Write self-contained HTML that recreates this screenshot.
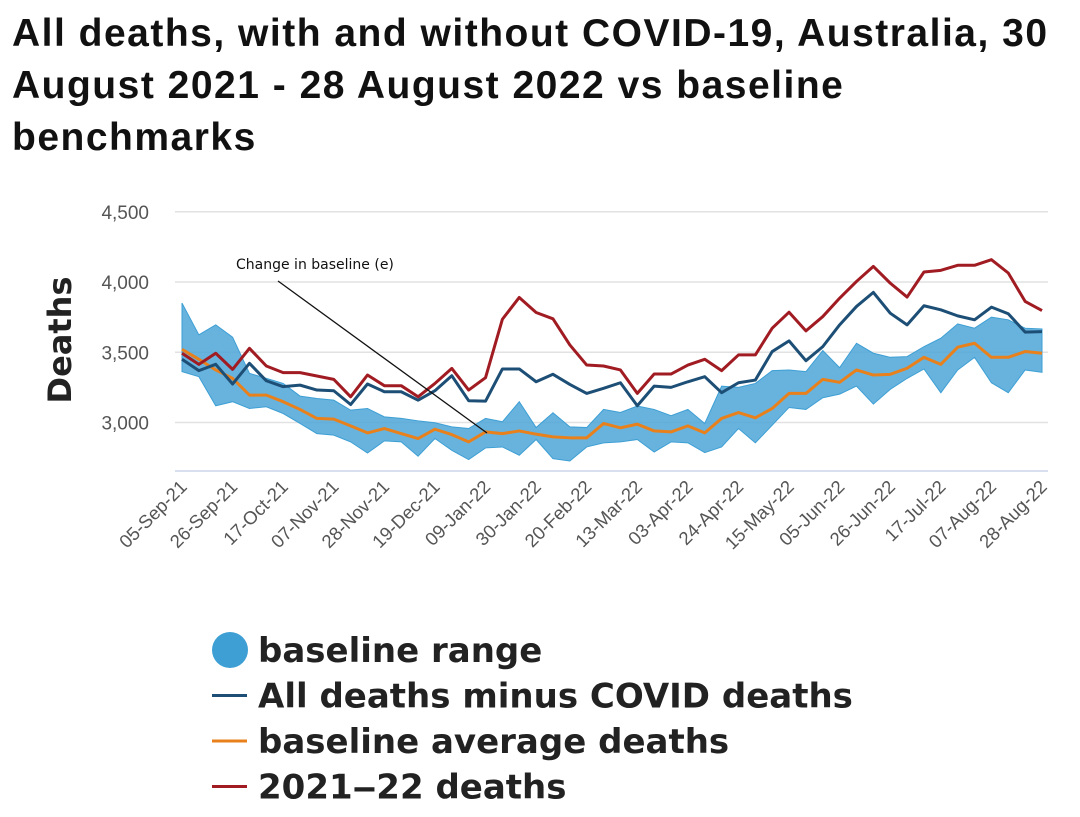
<!DOCTYPE html>
<html><head><meta charset="utf-8"><style>
body{margin:0;background:#fff;width:1080px;height:817px;overflow:hidden;font-family:"Liberation Sans",sans-serif}
#title{position:absolute;left:12px;top:8px;font-size:39px;line-height:52px;color:#111;margin:0;font-weight:bold;letter-spacing:1.5px;white-space:nowrap}
</style></head><body>
<h1 id="title">All deaths, with and without COVID-19, Australia, 30<br>August 2021 - 28 August 2022 vs baseline<br>benchmarks</h1>
<svg id="chart" width="1080" height="817" style="position:absolute;left:0;top:0"></svg>
<script>
const categories=["05-Sep-21","12-Sep-21","19-Sep-21","26-Sep-21","03-Oct-21","10-Oct-21","17-Oct-21","24-Oct-21","31-Oct-21","07-Nov-21","14-Nov-21","21-Nov-21","28-Nov-21","05-Dec-21","12-Dec-21","19-Dec-21","26-Dec-21","02-Jan-22","09-Jan-22","16-Jan-22","23-Jan-22","30-Jan-22","06-Feb-22","13-Feb-22","20-Feb-22","27-Feb-22","06-Mar-22","13-Mar-22","20-Mar-22","27-Mar-22","03-Apr-22","10-Apr-22","17-Apr-22","24-Apr-22","01-May-22","08-May-22","15-May-22","22-May-22","29-May-22","05-Jun-22","12-Jun-22","19-Jun-22","26-Jun-22","03-Jul-22","10-Jul-22","17-Jul-22","24-Jul-22","31-Jul-22","07-Aug-22","14-Aug-22","21-Aug-22","28-Aug-22"];
const deaths2122=[3493,3414,3493,3378,3528,3402,3355,3355,3331,3307,3183,3338,3262,3262,3183,3278,3385,3231,3319,3735,3890,3783,3738,3552,3409,3402,3374,3207,3345,3345,3409,3450,3369,3481,3481,3671,3785,3652,3754,3885,4004,4111,3992,3893,4071,4083,4119,4119,4159,4064,3862,3797];
const minusCovid=[3450,3369,3414,3274,3421,3297,3255,3266,3231,3226,3128,3274,3219,3219,3159,3226,3333,3155,3152,3381,3381,3290,3343,3271,3207,3243,3283,3119,3259,3250,3290,3326,3212,3283,3302,3505,3581,3440,3540,3695,3826,3926,3778,3695,3831,3802,3759,3731,3821,3774,3643,3647];
const baselineAvg=[3521,3450,3374,3314,3195,3195,3148,3093,3029,3024,2976,2926,2957,2921,2886,2952,2914,2862,2933,2921,2940,2917,2898,2891,2891,2993,2962,2988,2940,2933,2976,2926,3029,3071,3033,3100,3207,3207,3307,3286,3374,3338,3343,3386,3464,3414,3536,3564,3464,3464,3505,3493];
const bandUpper=[3850,3624,3695,3607,3350,3314,3278,3188,3171,3159,3088,3100,3040,3029,3012,2998,2969,2957,3029,3005,3148,2964,3069,2969,2964,3093,3071,3117,3093,3048,3093,2993,3259,3250,3278,3369,3374,3362,3512,3390,3564,3493,3464,3469,3540,3600,3702,3671,3750,3731,3671,3666];
const bandLower=[3362,3326,3119,3148,3100,3112,3064,2993,2921,2910,2862,2783,2869,2862,2760,2886,2802,2736,2819,2826,2767,2879,2743,2726,2826,2855,2862,2879,2790,2862,2855,2786,2826,2957,2855,2981,3107,3093,3176,3202,3259,3131,3236,3314,3381,3212,3374,3464,3283,3212,3374,3357];
const yTicks=[3000,3500,4000,4500];
const yTickLabels=["3,000","3,500","4,000","4,500"];
const labelEvery=3;

const NS="http://www.w3.org/2000/svg";
const svg=document.getElementById('chart');
const x0=182,x1=1042,plotL=175,plotR=1048,plotB=471;
function xs(i){return x0+(x1-x0)*i/(categories.length-1);}
function ys(v){return 422.5-(v-3000)*0.1405;}
function mk(t,a){const e=document.createElementNS(NS,t);for(const k in a)e.setAttribute(k,a[k]);svg.appendChild(e);return e;}

yTicks.forEach((v,i)=>{
  const g=mk('line',{x1:plotL,x2:plotR,y1:ys(v),y2:ys(v),stroke:'#e2e2e2','stroke-width':1.5});
  
  
  const t=mk('text',{x:149,y:ys(v)+7,'text-anchor':'end','font-size':19,fill:'#555','font-family':'Liberation Sans, sans-serif'});
  t.textContent=yTickLabels[i];
  
  
});
const ax=mk('line',{x1:plotL,x2:plotR,y1:plotB,y2:plotB,stroke:'#ccd6eb','stroke-width':1.5});



const yt=mk('text',{x:0,y:0,transform:'translate(71,340) rotate(-90)','text-anchor':'middle','font-size':32,'font-weight':'bold',fill:'#222','font-family':'DejaVu Sans, sans-serif'});
yt.textContent='Deaths';



let d='';
bandUpper.forEach((v,i)=>{d+=(i?'L':'M')+xs(i)+','+ys(v);});
for(let i=bandLower.length-1;i>=0;i--)d+='L'+xs(i)+','+ys(bandLower[i]);
const band=mk('path',{d:d+'Z',fill:'#4ea6d8','fill-opacity':0.85,stroke:'#3d9fd4','stroke-width':1});



function line(arr,color,name){
  const p=mk('path',{d:arr.map((v,i)=>(i?'L':'M')+xs(i)+','+ys(v)).join(''),fill:'none',stroke:color,'stroke-width':3,'stroke-linejoin':'round'});
  
  
}
line(baselineAvg,'#e8801c','baseline-average-line');
line(minusCovid,'#1d4f76','minus-covid-line');
line(deaths2122,'#a11c22','deaths-2021-22-line');

categories.forEach((c,i)=>{
  if(i%labelEvery)return;
  const t=mk('text',{x:0,y:0,transform:`translate(${xs(i)+6},${plotB+17}) rotate(-45)`,'text-anchor':'end','font-size':18.5,fill:'#555','font-family':'Liberation Sans, sans-serif'});
  t.textContent=c;
  
  
});

const an=mk('line',{x1:278,y1:281,x2:487,y2:433,stroke:'#111','stroke-width':1.3});


const at=mk('text',{x:236,y:269,'font-size':14,fill:'#111','font-family':'DejaVu Sans, sans-serif'});
at.textContent='Change in baseline (e)';



const leg=[['baseline range','#3d9fd4',1],['All deaths minus COVID deaths','#1d4f76',0],['baseline average deaths','#e8801c',0],['2021\u201222 deaths','#a11c22',0]];
leg.forEach((l,i)=>{
  const y=650+i*45.5;
  if(l[2]){const c=mk('circle',{cx:230,cy:y,r:18,fill:l[1]});}
  else{const m=mk('line',{x1:212,x2:247,y1:y,y2:y,stroke:l[1],'stroke-width':3});}
  const t=mk('text',{x:258,y:y+12,'font-size':34,'font-weight':'bold',fill:'#222','font-family':'DejaVu Sans, sans-serif'});
  t.textContent=l[0];
  
  
});
</script>
</body></html>
